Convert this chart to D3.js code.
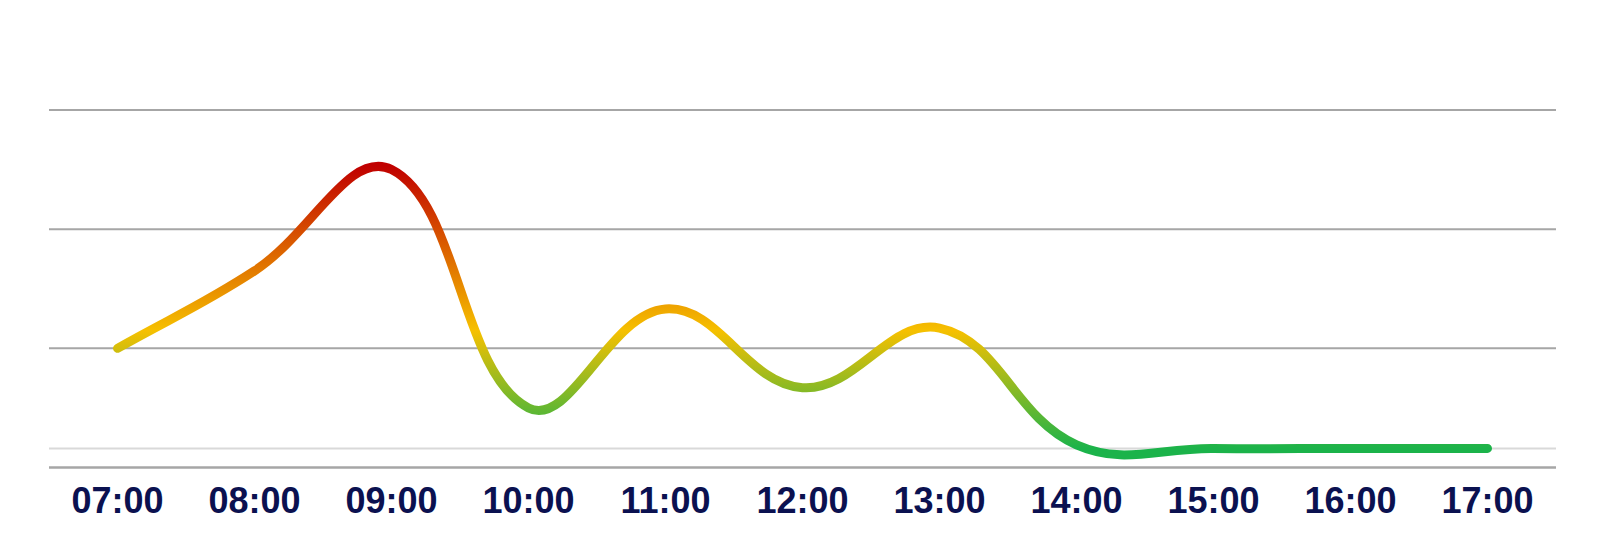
<!DOCTYPE html>
<html>
<head>
<meta charset="utf-8">
<script src="https://cdn.jsdelivr.net/npm/d3@7"></script>
<style>
  html, body { margin: 0; padding: 0; background: #ffffff; }
  svg { display: block; }
</style>
</head>
<body>
<svg id="chart" width="1607" height="553"></svg>
<script>
// ---- data ----
const categories = ["07:00", "08:00", "09:00", "10:00", "11:00", "12:00", "13:00", "14:00", "15:00", "16:00", "17:00"];
const values = [100, 165, 250, 50, 133, 67, 117, 19, 16, 16, 16];
const gridValues = [100, 200, 300];
const baselineValue = 16;
const yDomain = [0, 300];

// gradient (colour by value)
const gradientValues = [16, 115, 253];
const gradientColors = ["#1bb34a", "#f6c000", "#c00000"];

(function () {
  const svg = d3.select("#chart");
  const plotLeft = 49, plotRight = 1556, plotTop = 110, plotBottom = 467.5;

  const x = d3.scaleBand().domain(categories).range([plotLeft, plotRight]);
  const y = d3.scaleLinear().domain(yDomain).range([plotBottom, plotTop]);
  const cx = c => x(c) + x.bandwidth() / 2;

  // grid lines
  svg.append("g").selectAll("line").data(gridValues).join("line")
    .attr("x1", plotLeft).attr("x2", plotRight)
    .attr("y1", d => y(d)).attr("y2", d => y(d))
    .attr("stroke", "#a6a6a6").attr("stroke-width", 2);

  // baseline (light)
  svg.append("line")
    .attr("x1", plotLeft).attr("x2", plotRight)
    .attr("y1", y(baselineValue)).attr("y2", y(baselineValue))
    .attr("stroke", "#d9d9d9").attr("stroke-width", 2);

  // x axis
  const xAxis = d3.axisBottom(x).tickSize(0).tickPadding(0);
  const gx = svg.append("g").attr("transform", `translate(0,${plotBottom})`).call(xAxis);
  gx.select(".domain").attr("stroke", "#a6a6a6").attr("stroke-width", 2.5)
    .attr("d", `M${plotLeft},0H${plotRight}`);
  gx.selectAll(".tick text")
    .attr("y", 45).attr("dy", 0)
    .attr("fill", "#0b1150")
    .style("font-family", "'Liberation Sans', Arial, sans-serif")
    .style("font-weight", "bold")
    .style("font-size", "36px");

  // gradient
  const defs = svg.append("defs");
  const g0 = gradientValues[0], g1 = gradientValues[gradientValues.length - 1];
  const grad = defs.append("linearGradient")
    .attr("id", "lineGrad")
    .attr("gradientUnits", "userSpaceOnUse")
    .attr("x1", 0).attr("x2", 0)
    .attr("y1", y(g0)).attr("y2", y(g1));
  grad.selectAll("stop").data(gradientValues).join("stop")
    .attr("offset", d => (d - g0) / (g1 - g0))
    .attr("stop-color", (d, i) => gradientColors[i]);

  // spline (tension 0.4, distance-weighted control points)
  function splinePath(pts, t) {
    const n = pts.length;
    const cps = pts.map((p, i) => {
      const prev = pts[Math.max(0, i - 1)], next = pts[Math.min(n - 1, i + 1)];
      const d01 = Math.hypot(p[0] - prev[0], p[1] - prev[1]);
      const d12 = Math.hypot(next[0] - p[0], next[1] - p[1]);
      let s01 = d01 / (d01 + d12), s12 = d12 / (d01 + d12);
      if (isNaN(s01)) s01 = 0;
      if (isNaN(s12)) s12 = 0;
      const fa = t * s01, fb = t * s12;
      return {
        prev: [p[0] - fa * (next[0] - prev[0]), p[1] - fa * (next[1] - prev[1])],
        next: [p[0] + fb * (next[0] - prev[0]), p[1] + fb * (next[1] - prev[1])]
      };
    });
    const path = d3.path();
    path.moveTo(pts[0][0], pts[0][1]);
    for (let i = 1; i < n; i++) {
      path.bezierCurveTo(cps[i - 1].next[0], cps[i - 1].next[1], cps[i].prev[0], cps[i].prev[1], pts[i][0], pts[i][1]);
    }
    return path.toString();
  }

  const pts = categories.map((c, i) => [cx(c), y(values[i])]);
  svg.append("path")
    .attr("d", splinePath(pts, 0.4))
    .attr("fill", "none")
    .attr("stroke", "url(#lineGrad)")
    .attr("stroke-width", 9)
    .attr("stroke-linecap", "round")
    .attr("stroke-linejoin", "round");
})();
</script>
</body>
</html>
